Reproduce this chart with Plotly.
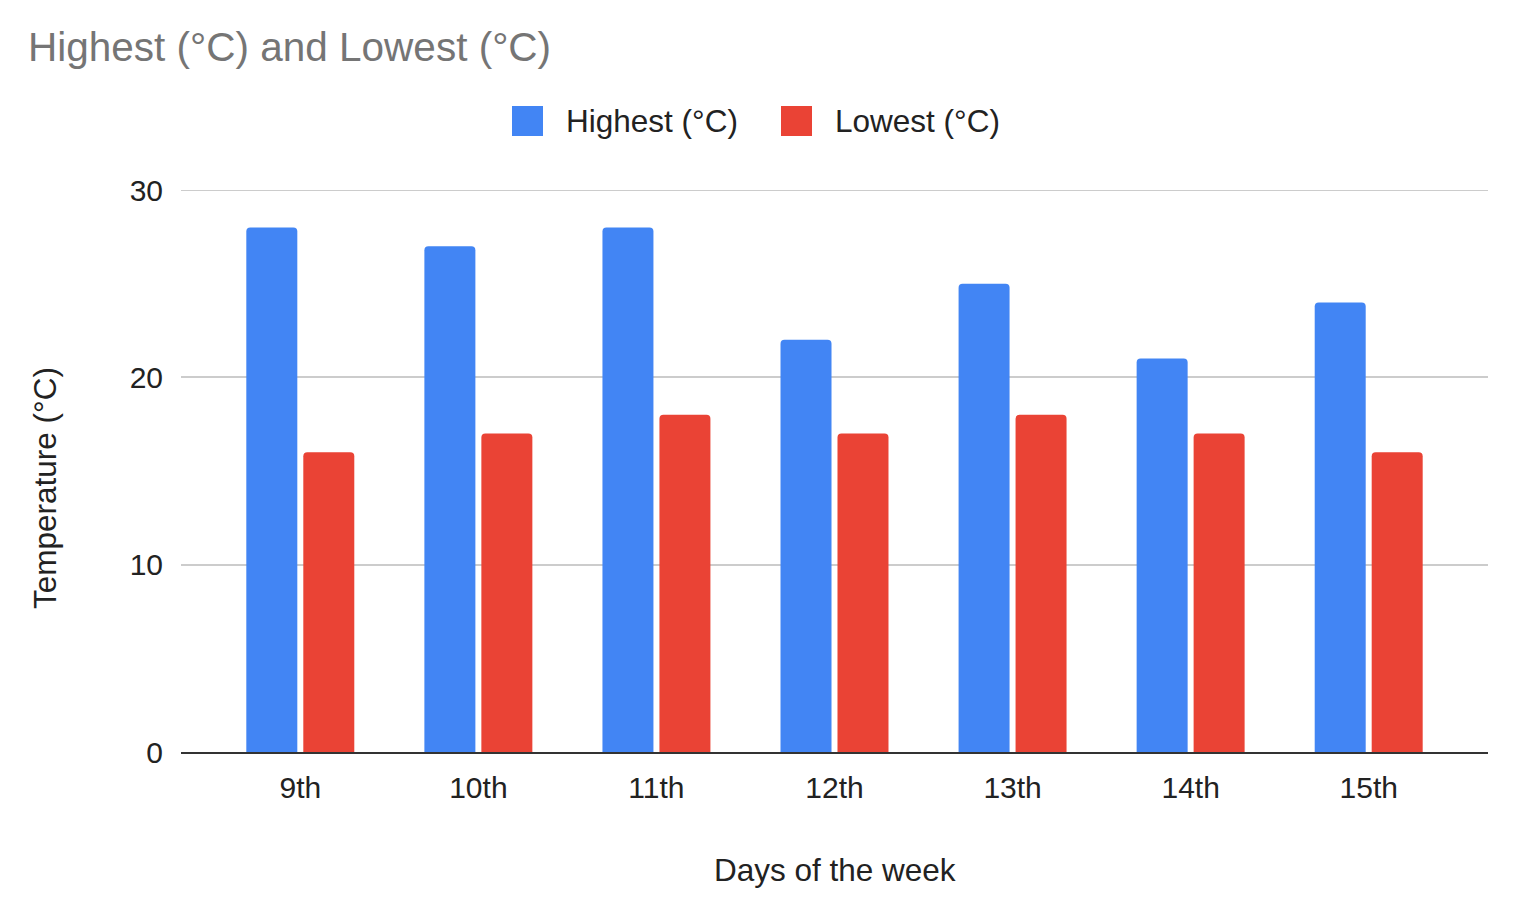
import plotly.graph_objects as go

days = ["9th", "10th", "11th", "12th", "13th", "14th", "15th"]
highest = [28, 27, 28, 22, 25, 21, 24]
lowest = [16, 17, 18, 17, 18, 17, 16]
series_names = ["Highest (°C)", "Lowest (°C)"]
series_colors = ["#4285F4", "#EA4335"]
y_ticks = [0, 10, 20, 30]

font_family = "Liberation Sans, Arial, sans-serif"

# page offset of 8px (body margin) is compensated in the layout below
W, H = 1499, 896
ML, MR, MT, MB = 173, 19, 182, 152
PW, PH = W - ML - MR, H - MT - MB


def px_x(cx):
    return (cx - ML) / PW


def px_y(cy):
    return (H - MB - cy) / PH


fig = go.Figure()
for name, vals, col in zip(series_names, [highest, lowest], series_colors):
    fig.add_trace(go.Bar(name=name, x=days, y=vals, marker_color=col,
                         marker_line_width=0, showlegend=False))

# custom legend (larger squares like the reference)
legend_sq = [(504, 535), (773, 804)]
legend_txt = [556, 825]
shapes = []
annotations = []
for (x0, x1), tx, name, col in zip(legend_sq, legend_txt, series_names, series_colors):
    shapes.append(dict(type="rect", xref="paper", yref="paper",
                       x0=px_x(x0), x1=px_x(x1), y0=px_y(128), y1=px_y(98),
                       fillcolor=col, line=dict(width=0), layer="above"))
    annotations.append(dict(text=name, xref="paper", yref="paper", x=px_x(tx),
                            y=px_y(113), xanchor="left", yanchor="middle",
                            showarrow=False, font=dict(size=31.5, color="#222222")))

# top gridline (at the edge of the range)
shapes.append(dict(type="line", xref="paper", yref="y", x0=0, x1=1,
                   y0=y_ticks[-1], y1=y_ticks[-1], line=dict(color="#CCCCCC", width=2),
                   layer="below"))

annotations.append(dict(text="Temperature (°C)", xref="paper", yref="paper",
                        x=px_x(37), y=px_y(480), textangle=-90, showarrow=False,
                        xanchor="center", yanchor="middle",
                        font=dict(size=31.5, color="#222222")))
annotations.append(dict(text="Days of the week", xref="paper", yref="paper",
                        x=0.5, y=px_y(862), showarrow=False,
                        xanchor="center", yanchor="middle",
                        font=dict(size=31.5, color="#222222")))

fig.update_layout(
    width=W, height=H,
    paper_bgcolor="white", plot_bgcolor="white",
    margin=dict(l=ML, r=MR, t=MT, b=MB, pad=0),
    font=dict(family=font_family, size=30, color="#222222"),
    barmode="group", bargap=0.36, bargroupgap=0.105,
    barcornerradius=4,
    title=dict(text="Highest (°C) and Lowest (°C)", x=20 / W, xanchor="left",
               y=1 - 39 / H, yanchor="middle", xref="container", yref="container",
               font=dict(size=40.5, color="#757575", family=font_family)),
    showlegend=False,
    shapes=shapes,
    annotations=annotations,
)
fig.update_xaxes(
    range=[-0.67, 6.67],
    showgrid=False, showline=True, linecolor="#333333", linewidth=2,
    ticks="", ticklabelstandoff=8, tickfont=dict(size=30),
)
fig.update_yaxes(
    range=[0, 30], tickvals=y_ticks, showgrid=True, gridcolor="#CCCCCC",
    gridwidth=2, zeroline=False, ticks="", ticklabelstandoff=17, tickfont=dict(size=30),
)

fig.write_html("out.html")
